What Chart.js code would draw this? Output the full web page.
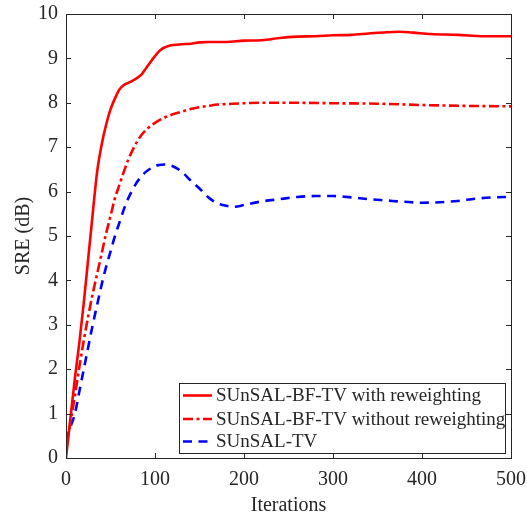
<!DOCTYPE html>
<html>
<head>
<meta charset="utf-8">
<script src="https://cdn.jsdelivr.net/npm/chart.js@4/dist/chart.umd.min.js"></script>
<style>
  html, body { margin: 0; padding: 0; background: #fff; }
  #wrap { width: 527px; height: 516px; }
</style>
</head>
<body>
<div id="wrap"><canvas id="sreChart" width="527" height="516"></canvas></div>
<script>
// Iteraciones y valores de SRE (dB)
const iterA = [0, 5, 10, 15, 20, 25, 30, 35, 40, 45, 50, 55, 60, 65, 70, 75, 80, 85, 90, 95, 100, 105, 110, 115, 120, 130, 140, 150, 160, 180, 200, 220, 240, 260, 280, 300, 320, 340, 360, 375, 390, 410, 440, 470, 500];
const sreConReponderacion = [0, 0.9, 1.8, 2.6, 3.5, 4.5, 5.5, 6.45, 7.05, 7.5, 7.85, 8.1, 8.3, 8.4, 8.45, 8.5, 8.56, 8.64, 8.78, 8.92, 9.05, 9.17, 9.24, 9.28, 9.3, 9.32, 9.33, 9.36, 9.37, 9.37, 9.4, 9.41, 9.46, 9.49, 9.5, 9.52, 9.53, 9.56, 9.59, 9.6, 9.58, 9.55, 9.53, 9.5, 9.5];

const iterB = [0, 5, 10, 15, 20, 25, 30, 35, 40, 45, 50, 55, 60, 65, 70, 75, 80, 85, 90, 95, 100, 110, 120, 130, 140, 150, 160, 170, 180, 200, 220, 260, 300, 350, 400, 450, 500];
const sreSinReponderacion = [0.2, 0.8, 1.4, 2.05, 2.65, 3.2, 3.7, 4.15, 4.6, 5.05, 5.45, 5.85, 6.15, 6.45, 6.72, 6.94, 7.13, 7.28, 7.39, 7.48, 7.55, 7.66, 7.74, 7.8, 7.86, 7.9, 7.93, 7.96, 7.97, 7.99, 8.0, 8.0, 7.99, 7.98, 7.95, 7.93, 7.92];

const iterC = [0, 5, 10, 15, 20, 25, 30, 35, 40, 45, 50, 55, 60, 65, 70, 75, 80, 85, 90, 95, 100, 105, 110, 115, 120, 130, 140, 150, 160, 170, 180, 190, 200, 220, 240, 260, 280, 300, 320, 340, 360, 380, 400, 420, 440, 460, 480, 500];
const sreSunsalTV = [0.4, 0.7, 1.0, 1.5, 2.0, 2.5, 3.0, 3.45, 3.9, 4.3, 4.65, 5.0, 5.3, 5.6, 5.85, 6.05, 6.22, 6.35, 6.45, 6.52, 6.58, 6.6, 6.61, 6.6, 6.57, 6.45, 6.25, 6.07, 5.87, 5.74, 5.68, 5.66, 5.7, 5.78, 5.83, 5.88, 5.9, 5.9, 5.87, 5.83, 5.8, 5.77, 5.75, 5.76, 5.79, 5.84, 5.87, 5.88];

const etiquetas = ['SUnSAL-BF-TV with reweighting', 'SUnSAL-BF-TV without reweighting', 'SUnSAL-TV'];
const xTicks = [0, 100, 200, 300, 400, 500];
const yTicks = [0, 1, 2, 3, 4, 5, 6, 7, 8, 9, 10];

const ejeColor = '#262626';
const fuente = 'Liberation Serif';

function puntos(xs, ys) {
    return xs.map((x, i) => ({ x: x, y: ys[i] }));
}

// Caja y marcas hacia adentro (estilo MATLAB)
const cajaPlugin = {
    id: 'caja',
    afterDraw(chart) {
        const { ctx, chartArea: a, scales } = chart;
        ctx.save();
        ctx.strokeStyle = ejeColor;
        ctx.lineWidth = 1;
        ctx.strokeRect(a.left + 0.5, a.top + 0.5, a.right - a.left, a.bottom - a.top);
        const len = 5;
        ctx.beginPath();
        xTicks.forEach(v => {
            const px = Math.round(scales.x.getPixelForValue(v)) + 0.5;
            ctx.moveTo(px, a.bottom); ctx.lineTo(px, a.bottom - len);
            ctx.moveTo(px, a.top); ctx.lineTo(px, a.top + len);
        });
        yTicks.forEach(v => {
            const py = Math.round(scales.y.getPixelForValue(v)) + 0.5;
            ctx.moveTo(a.left, py); ctx.lineTo(a.left + len, py);
            ctx.moveTo(a.right, py); ctx.lineTo(a.right - len, py);
        });
        ctx.stroke();

        // Leyenda dentro del area
        const box = { left: 179.5, top: 383.5, right: 505.5, bottom: 453.5 };
        ctx.fillStyle = '#fff';
        ctx.fillRect(box.left, box.top, box.right - box.left, box.bottom - box.top);
        ctx.strokeStyle = ejeColor;
        ctx.strokeRect(box.left, box.top, box.right - box.left, box.bottom - box.top);
        const filas = [395.5, 419, 441.5];
        ctx.font = '19px "' + fuente + '"';
        ctx.textBaseline = 'middle';
        chart.data.datasets.forEach((ds, i) => {
            ctx.beginPath();
            ctx.strokeStyle = ds.borderColor;
            ctx.lineWidth = ds.borderWidth;
            ctx.setLineDash(ds.borderDash || []);
            ctx.moveTo(183, filas[i]);
            ctx.lineTo(212, filas[i]);
            ctx.stroke();
            ctx.setLineDash([]);
            ctx.fillStyle = ejeColor;
            ctx.fillText(ds.label, 216, filas[i] + 1);
        });
        ctx.restore();
    }
};

new Chart(document.getElementById('sreChart'), {
    type: 'line',
    data: {
        datasets: [{
            label: etiquetas[0],
            data: puntos(iterA, sreConReponderacion),
            borderColor: '#ff0000',
            borderWidth: 2.6
        }, {
            label: etiquetas[1],
            data: puntos(iterB, sreSinReponderacion),
            borderColor: '#ff0000',
            borderWidth: 2.6,
            borderDash: [10, 3.5, 3, 3.5]
        }, {
            label: etiquetas[2],
            data: puntos(iterC, sreSunsalTV),
            borderColor: '#0000ff',
            borderWidth: 2.6,
            borderDash: [9, 6.5]
        }]
    },
    options: {
        responsive: false,
        animation: false,
        devicePixelRatio: 1,
        layout: { padding: { left: 0, top: 14, right: 16, bottom: 0 } },
        elements: {
            point: { radius: 0 },
            line: { cubicInterpolationMode: 'monotone', fill: false }
        },
        scales: {
            x: {
                type: 'linear',
                min: 0,
                max: 500,
                afterBuildTicks: s => { s.ticks = xTicks.map(v => ({ value: v })); },
                afterFit: s => { s.height = 58; s.paddingLeft = 0; s.paddingRight = 0; },
                grid: { display: false, drawTicks: false },
                border: { display: false },
                ticks: { color: ejeColor, font: { family: fuente, size: 20 }, padding: 10, maxRotation: 0 },
                title: { display: true, text: 'Iterations', color: ejeColor, font: { family: fuente, size: 20 }, padding: { top: 0, bottom: -2 } }
            },
            y: {
                type: 'linear',
                min: 0,
                max: 10,
                afterBuildTicks: s => { s.ticks = yTicks.map(v => ({ value: v })); },
                afterFit: s => { s.width = 66; s.paddingTop = 0; s.paddingBottom = 0; },
                grid: { display: false, drawTicks: false },
                border: { display: false },
                ticks: { color: ejeColor, font: { family: fuente, size: 20 }, padding: 8 },
                title: { display: true, text: 'SRE (dB)', color: ejeColor, font: { family: fuente, size: 20 }, padding: { top: 12, bottom: 0 } }
            }
        },
        plugins: {
            legend: { display: false },
            tooltip: { enabled: false }
        }
    },
    plugins: [cajaPlugin]
});
</script>
</body>
</html>
